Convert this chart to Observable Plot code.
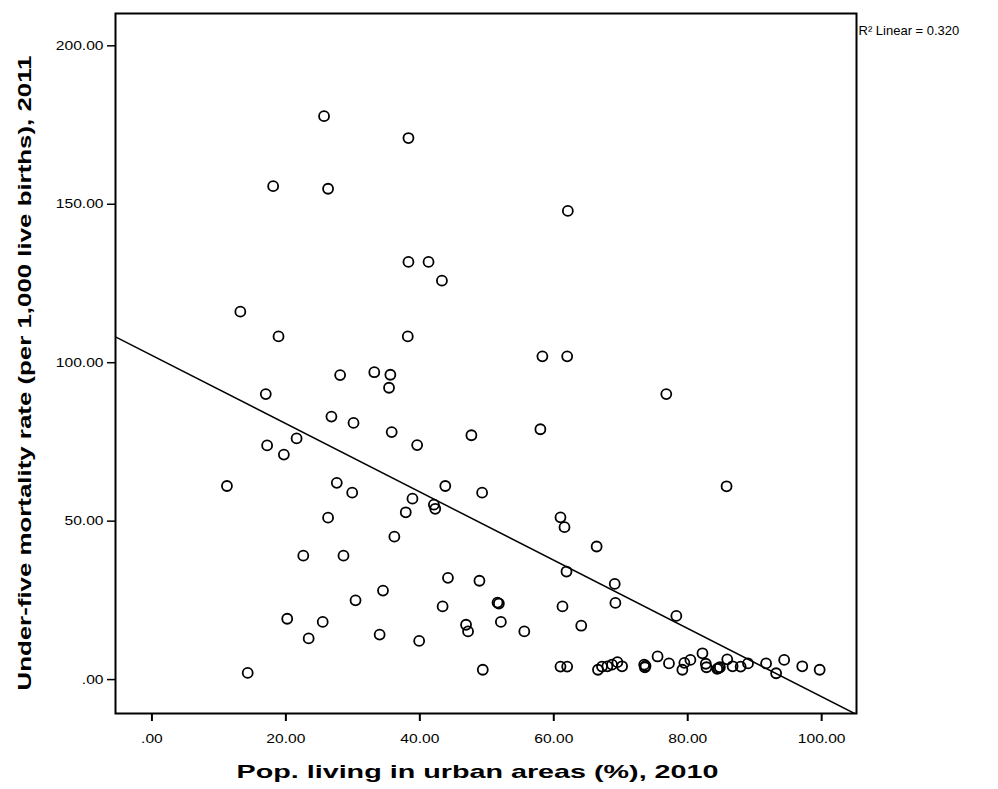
<!DOCTYPE html>
<html>
<head>
<meta charset="utf-8">
<script src="https://cdn.jsdelivr.net/npm/d3@7"></script>
<script src="https://cdn.jsdelivr.net/npm/@observablehq/plot@0.6"></script>
<style>
  html, body { margin: 0; padding: 0; background: #fff; }
  svg { display: block; }
</style>
</head>
<body>
<script>
// Pop. living in urban areas (%), 2010
const urban = [
  25.7, 18.1, 26.3, 13.2, 18.9, 38.3, 62.1, 38.3, 41.3, 43.3,
  38.2, 62.0, 76.8, 28.1, 17.0, 26.8, 30.1, 21.6, 17.2, 19.7,
  11.2, 27.6, 29.9, 26.3, 58.3, 33.2, 35.6, 35.4, 35.8, 39.6,
  47.7, 58.0, 43.8, 49.3, 38.9, 37.9, 42.1, 42.3, 61.0, 61.6,
  22.6, 28.6, 30.4, 20.2, 25.5, 23.4, 14.3, 36.2, 61.9, 44.2,
  48.9, 34.5, 43.4, 51.6, 51.8, 61.3, 64.1, 46.9, 47.2, 52.1,
  55.6, 34.0, 39.9, 49.4, 61.0, 62.0, 66.4, 69.1, 69.2, 78.3,
  85.8,
  66.6, 67.2, 68.0, 68.7, 69.5, 70.2, 73.5, 73.6, 73.7, 75.5,
  77.2, 79.2, 79.5, 80.4, 82.2, 82.7, 82.8, 84.4, 84.6, 84.8,
  85.9, 86.7, 87.9, 89.0, 91.7, 93.2, 94.4, 97.1, 99.7
];
// Under-five mortality rate (per 1,000 live births), 2011
const u5mr = [
  177.8, 155.7, 154.9, 116.1, 108.3, 170.9, 147.9, 131.8, 131.8, 125.9,
  108.3, 102.0, 90.1, 96.1, 90.1, 83.0, 81.0, 76.1, 73.9, 71.0,
  61.1, 62.1, 59.0, 51.1, 102.0, 97.0, 96.2, 92.1, 78.1, 74.0,
  77.1, 79.0, 61.1, 59.0, 57.1, 52.8, 55.2, 53.9, 51.2, 48.1,
  39.1, 39.1, 25.0, 19.2, 18.2, 13.0, 2.1, 45.1, 34.1, 32.1,
  31.2, 28.1, 23.1, 24.3, 24.0, 23.1, 17.0, 17.3, 15.2, 18.2,
  15.2, 14.2, 12.2, 3.1, 4.1, 4.1, 42.0, 30.2, 24.2, 20.1,
  61.0,
  3.1, 4.1, 4.2, 4.7, 5.5, 4.2, 4.7, 3.9, 4.3, 7.3,
  5.1, 3.1, 5.3, 6.2, 8.3, 5.0, 3.9, 3.4, 3.6, 3.9,
  6.4, 4.2, 4.1, 5.1, 5.1, 2.0, 6.2, 4.2, 3.1
];
const xTicks = [0, 20, 40, 60, 80, 100];
const yTicks = [0, 50, 100, 150, 200];
const xDomain = [-5.44, 105.2];
const yDomain = [-10.7, 210.2];
const r2Label = "R\u00B2 Linear = 0.320";
const xTitle = "Pop. living in urban areas (%), 2010";
const yTitle = "Under-five mortality rate (per 1,000 live births), 2011";

const points = urban.map((x, i) => ({x, y: u5mr[i]}));

// least-squares fit computed from the data
const mx = d3.mean(urban), my = d3.mean(u5mr);
const slope = d3.sum(urban, (x, i) => (x - mx) * (u5mr[i] - my)) / d3.sum(urban, x => (x - mx) ** 2);
const intercept = my - slope * mx;
const fitLine = xDomain.map(x => ({x, y: intercept + slope * x}));

const fmt = d => d === 0 ? ".00" : d.toFixed(2);

const svg = Plot.plot({
  width: 998,
  height: 789,
  marginLeft: 115,
  marginRight: 142,
  marginTop: 13,
  marginBottom: 76,
  style: {background: "#fff", fontFamily: "Liberation Sans, Arial, sans-serif", color: "#000"},
  x: {domain: xDomain, ticks: xTicks, tickFormat: fmt},
  y: {domain: yDomain, ticks: yTicks, tickFormat: fmt},
  marks: [
    Plot.axisX({ticks: xTicks, tickFormat: fmt, tickSize: 8, tickPadding: 12, fontSize: 13, label: null, stroke: "#000", strokeWidth: 2}),
    Plot.axisY({ticks: yTicks, tickFormat: fmt, tickSize: 8, tickPadding: 4, fontSize: 13, label: null, stroke: "#000", strokeWidth: 1.5}),
    Plot.line(fitLine, {x: "x", y: "y", stroke: "#000", strokeWidth: 1.5, clip: true}),
    Plot.dot(points, {x: "x", y: "y", r: 5, stroke: "#000", strokeWidth: 1.8, fill: "none"}),
    Plot.frame({stroke: "#000", strokeWidth: 2}),
    Plot.text([xTitle], {frameAnchor: "bottom-left", dx: 121, dy: 64, textAnchor: "start", fontSize: 19, fontWeight: "bold", fill: "#000", className: "xtitle"}),
    Plot.text([yTitle], {frameAnchor: "bottom-left", rotate: -90, dx: -85, dy: -23, textAnchor: "start", fontSize: 19, fontWeight: "bold", fill: "#000", className: "ytitle"}),
    Plot.text([r2Label], {frameAnchor: "top-right", dx: 2, dy: 12, textAnchor: "start", fontSize: 13, fill: "#000"})
  ]
});
document.body.append(svg);

// horizontal stretch of text to mimic the reference rendering
function stretch(sel, factor) {
  d3.select(svg).selectAll(sel).each(function () {
    const w = this.getComputedTextLength();
    this.setAttribute("textLength", w * factor);
    this.setAttribute("lengthAdjust", "spacingAndGlyphs");
  });
}
function fitLength(sel, len) {
  d3.select(svg).selectAll(sel).each(function () {
    this.setAttribute("textLength", len);
    this.setAttribute("lengthAdjust", "spacingAndGlyphs");
  });
}
stretch("[aria-label='x-axis tick label'] text, [aria-label='y-axis tick label'] text", 1.2);
fitLength(".xtitle text", 482);
fitLength(".ytitle text", 635);
</script>
</body>
</html>
